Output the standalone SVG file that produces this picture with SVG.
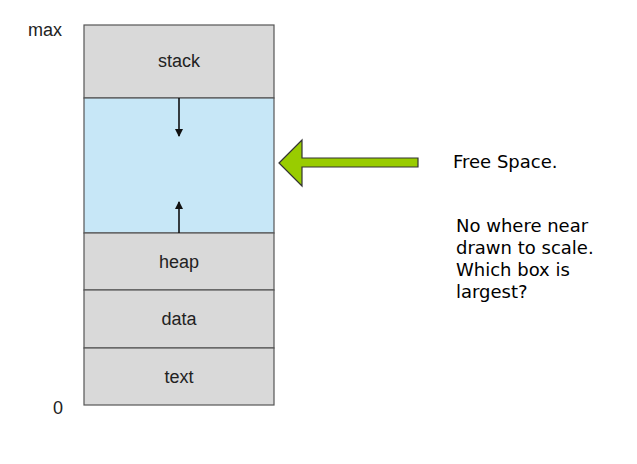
<svg xmlns="http://www.w3.org/2000/svg" width="637" height="464" viewBox="0 0 637 464">
<style>
.seg{fill:#d9d9d9;stroke:#555;stroke-width:1.2}
.free{fill:#c7e7f7;stroke:#555;stroke-width:1.2}
.lbl{font-family:"Liberation Sans",Arial,sans-serif;font-size:18px;fill:#222;text-anchor:middle}
.note{font-family:"DejaVu Sans",Verdana,sans-serif;font-size:18px;fill:#000}
</style>
<defs>
<marker id="ah" markerWidth="8" markerHeight="8" refX="7" refY="4" orient="auto" markerUnits="userSpaceOnUse"><path d="M0,0 L8,4 L0,8 z" fill="#111"/></marker>
</defs>
<rect width="637" height="464" fill="#fff"/>
<text class="lbl" x="45" y="36">max</text>
<text class="lbl" x="58" y="414">0</text>
<g id="stack"><rect class="seg" x="84" y="25" width="190" height="73"/><text class="lbl" x="179" y="67">stack</text></g>
<g id="free"><rect class="free" x="84" y="98" width="190" height="135"/></g>
<g id="heap"><rect class="seg" x="84" y="233" width="190" height="57"/><text class="lbl" x="179" y="268">heap</text></g>
<g id="data"><rect class="seg" x="84" y="290" width="190" height="58"/><text class="lbl" x="179" y="325">data</text></g>
<g id="text"><rect class="seg" x="84" y="348" width="190" height="57"/><text class="lbl" x="179" y="383">text</text></g>
<g id="connectors" stroke="#111" stroke-width="1.6">
<line x1="179" y1="98" x2="179" y2="136" marker-end="url(#ah)"/>
<line x1="179" y1="233" x2="179" y2="202" marker-end="url(#ah)"/>
</g>
<g id="pointer"><path d="M279,163 L302,140 L302,158 L418,158 L418,167 L302,167 L302,186 Z" fill="#99cc00" stroke="#333" stroke-width="1.2"/></g>
<g id="notes">
<text class="note" x="453" y="168">Free Space.</text>
<text class="note" x="456" y="232">No where near</text>
<text class="note" x="456" y="254">drawn to scale.</text>
<text class="note" x="456" y="276">Which box is</text>
<text class="note" x="456" y="298">largest?</text>
</g>
</svg>
